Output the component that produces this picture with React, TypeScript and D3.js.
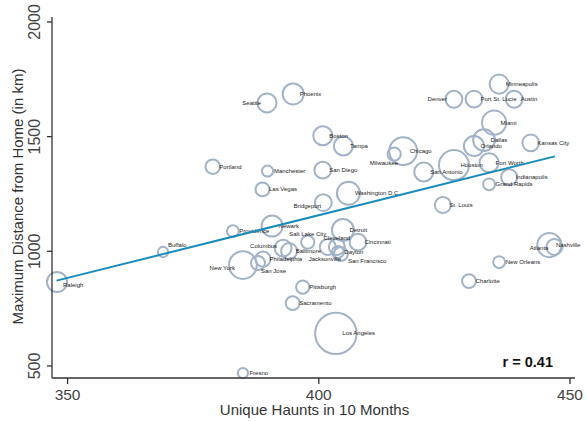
import React from "react";
import * as d3 from "d3";

const cities = [
  "Seattle", "Phoenix", "Boston", "Tampa", "Portland", "Manchester", "Las Vegas", "San Diego",
  "Washington D.C.", "Bridgeport", "Minneapolis", "Denver", "Port St. Lucie", "Austin", "Miami",
  "Dallas", "Orlando", "Kansas City", "Houston", "Fort Worth", "Indianapolis", "Grand Rapids",
  "Chicago", "Milwaukee", "San Antonio", "St. Louis", "Raleigh", "Buffalo", "Providence",
  "New York", "Fresno", "Newark", "Columbus", "Baltimore", "Philadelphia", "San Jose",
  "Salt Lake City", "Detroit", "Cleveland", "Cincinnati", "Dayton", "Jacksonville",
  "San Francisco", "Nashville", "Atlanta", "New Orleans", "Charlotte", "Pittsburgh",
  "Sacramento", "Los Angeles",
];

const uniqueHaunts = [
  389.7, 394.9, 400.8, 404.9, 378.9, 389.8, 388.8, 400.8,
  405.9, 400.9, 435.9, 426.9, 430.9, 438.9, 434.9,
  432.9, 430.9, 442.2, 426.9, 433.9, 437.9, 433.9,
  416.8, 415.0, 420.9, 424.7, 347.9, 369.0, 382.9,
  384.9, 384.9, 390.7, 392.9, 394.1, 388.9, 387.9,
  397.8, 404.8, 403.6, 407.8, 403.8, 401.8,
  404.4, 445.9, 446.9, 435.9, 429.9, 396.8,
  394.8, 403.4,
];

const maxDistance = [
  1647, 1686, 1504, 1459, 1369, 1350, 1270, 1354,
  1253, 1212, 1729, 1663, 1664, 1663, 1561,
  1485, 1459, 1473, 1376, 1386, 1323, 1292,
  1437, 1424, 1346, 1202, 866, 997, 1088,
  940, 469, 1110, 1014, 1001, 966, 949,
  1040, 1093, 1019, 1040, 997, 1019,
  988, 1027, 1019, 953, 870, 844,
  774, 642,
];

const users = [
  20.5, 25, 20.5, 20.5, 12, 7, 11, 16,
  30, 16, 20.5, 16, 16, 16, 33,
  27, 23, 16, 51, 20.5, 14.5, 8,
  44, 10, 20.5, 14.5, 23, 6, 8,
  44, 6, 25, 16, 14.5, 13, 11,
  10, 27, 14.5, 16, 8, 14.5,
  11, 33, 14.5, 8, 11, 10,
  11, 97,
];

const trendHaunts = [347.8, 447.0];
const trendDistance = [872, 1414];

const xTicks = [350, 400, 450];
const yTicks = [500, 1000, 1500, 2000];
const correlation = "r = 0.41";

// label placement (dx, dy in px, anchor); default is right of the marker
const labelPlacement: Record<string, [number, number, string]> = {
  Seattle: [-6, 0, "end"],
  Denver: [-7, 0, "end"],
  Atlanta: [-6, 1, "end"],
  "New York": [-8, 3, "end"],
  Columbus: [-6, -2, "end"],
  Bridgeport: [-2, 3, "end"],
  Milwaukee: [4, 9, "end"],
  "Salt Lake City": [0, -8, "middle"],
  Cleveland: [0, -9, "middle"],
  Jacksonville: [-3, 12, "middle"],
  "San Francisco": [7, 7, "start"],
  Buffalo: [5, -7, "start"],
  "San Jose": [3, 8, "start"],
  Raleigh: [6, 3, "start"],
};

const W = 587;
const H = 421;
const left = 52, right = 575, top = 17, bottom = 378;
const font = "'Liberation Sans', Arial, Helvetica, sans-serif";

export default function App() {
  const x = d3.scaleLinear().domain([346.9, 451]).range([left, right]);
  const y = d3.scaleLinear().domain([447.5, 2021.7]).range([bottom, top]);
  const r = d3.scaleSqrt().domain([0, 100]).range([0, 21]);

  const line = d3.line<number>()
    .x((_, i) => x(trendHaunts[i]))
    .y((d) => y(d));

  const points = cities.map((c, i) => ({
    city: c,
    cx: x(uniqueHaunts[i]),
    cy: y(maxDistance[i]),
    rr: r(users[i]),
  }));

  return (
    <div style={{ position: "fixed", left: 0, top: 0 }}>
      <svg width={W} height={H} style={{ display: "block", background: "#fff" }} fontFamily={font}>
        <rect width={W} height={H} fill="#fff" />
        {/* bubbles */}
        {points.map((p) => (
          <circle key={p.city} cx={p.cx} cy={p.cy} r={p.rr} fill="none" stroke="#a2b3c7" strokeWidth={2} />
        ))}
        {/* labels */}
        {points.map((p) => {
          const pl = labelPlacement[p.city] || [6.5, 0, "start"];
          return (
            <text key={"l" + p.city} x={p.cx + pl[0]} y={p.cy + pl[1]} fontSize={6} fill="#222"
              textAnchor={pl[2] as any} dominantBaseline="central">{p.city}</text>
          );
        })}
        {/* trend line */}
        <path d={line(trendDistance) || ""} fill="none" stroke="#1a8cb8" strokeWidth={2} />
        {/* axes */}
        <line x1={left} x2={left} y1={top} y2={bottom} stroke="#333" strokeWidth={1.3} />
        <line x1={left} x2={right} y1={bottom} y2={bottom} stroke="#333" strokeWidth={1.3} />
        {yTicks.map((t) => (
          <g key={"y" + t}>
            <line x1={left - 5} x2={left} y1={y(t)} y2={y(t)} stroke="#333" strokeWidth={1.3} />
            <text x={40} y={y(t)} fontSize={16} fill="#444" textAnchor="middle"
              transform={`rotate(-90, 40, ${y(t)})`}>{t}</text>
          </g>
        ))}
        {xTicks.map((t) => (
          <g key={"x" + t}>
            <line x1={x(t)} x2={x(t)} y1={bottom} y2={bottom + 6} stroke="#333" strokeWidth={1.3} />
            <text x={x(t)} y={399.5} fontSize={15.5} fill="#444" textAnchor="middle">{t}</text>
          </g>
        ))}
        <text x={314.5} y={415} fontSize={15} fill="#333" textAnchor="middle">Unique Haunts in 10 Months</text>
        <text x={23} y={196.5} fontSize={15} fill="#333" textAnchor="middle"
          transform="rotate(-90, 23, 196.5)">Maximum Distance from Home (in km)</text>
        <text x={553} y={367} fontSize={14.5} fontWeight="bold" fill="#111" textAnchor="end">{correlation}</text>
      </svg>
    </div>
  );
}
